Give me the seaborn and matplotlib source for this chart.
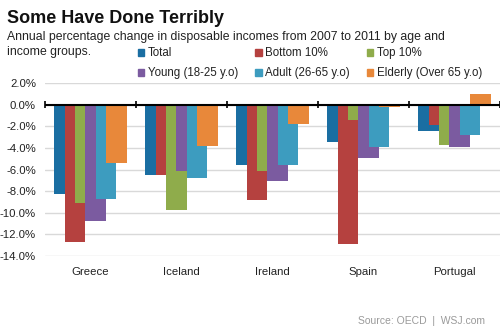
import numpy as np
import pandas as pd
import seaborn as sns
import matplotlib
matplotlib.use("Agg")
import matplotlib.pyplot as plt
from matplotlib.patches import Patch

countries = ["Greece", "Iceland", "Ireland", "Spain", "Portugal"]
groups = ["Total", "Bottom 10%", "Top 10%", "Young (18-25 y.o)", "Adult (26-65 y.o)", "Elderly (Over 65 y.o)"]
total = [-8.3, -6.5, -5.6, -3.5, -2.4]
bottom10 = [-12.7, -6.5, -8.8, -12.9, -1.9]
top10 = [-9.1, -9.7, -6.1, -1.4, -3.7]
young = [-10.8, -6.1, -7.1, -4.9, -3.9]
adult = [-8.7, -6.8, -5.6, -3.9, -2.8]
elderly = [-5.4, -3.8, -1.8, -0.25, 1.0]
yticks = [2, 0, -2, -4, -6, -8, -10, -12, -14]
colors = ["#1a6ea2", "#b5413f", "#8fac4b", "#7b5ba0", "#3d9cbf", "#e8883a"]

series = [total, bottom10, top10, young, adult, elderly]
df = pd.DataFrame({
    "country": countries * len(groups),
    "group": [g for g in groups for _ in countries],
    "value": [v for s in series for v in s],
})

sns.set_theme(style="white")
plt.rcParams["font.family"] = ["Liberation Sans", "DejaVu Sans"]

fig = plt.figure(figsize=(5, 3.34), dpi=100)
ax = fig.add_axes([0.09, 0.2335, 0.91, 0.518])

sns.barplot(data=df, x="country", y="value", hue="group", order=countries,
            hue_order=groups, palette=colors, width=0.68, dodge=True,
            legend=False, saturation=1, ax=ax, errorbar=None, linewidth=0)

# Overlapping bars (Excel-style overlap): double each bar width keeping center
for p in ax.patches:
    w = p.get_width()
    p.set_x(p.get_x() - w / 2)
    p.set_width(w * 2)

ax.set_ylim(-14, 2)
ax.set_xlim(-0.5, 4.5)
ax.set_yticks(yticks)
ax.set_yticklabels([f"{t:.1f}%" for t in yticks])
ax.yaxis.grid(True, color="#d9d9d9", lw=1)
ax.set_axisbelow(True)
for s in ax.spines.values():
    s.set_visible(False)
ax.axhline(0, color="black", lw=1.5, zorder=5)
ax.vlines(np.arange(-0.5, 5.0, 1.0), -0.3, 0.3, color="black", lw=1.2, zorder=5, clip_on=False)
ax.tick_params(axis="y", length=0, pad=6.5, labelsize=8.2, labelcolor="#222222")
ax.tick_params(axis="x", length=0, pad=8, labelsize=8.2, labelcolor="#222222")
ax.set_xlabel("")
ax.set_ylabel("")

fig.text(0.014, 0.945, "Some Have Done Terribly", fontsize=13, fontweight="bold",
         color="#111111", va="center")
fig.text(0.014, 0.888, "Annual percentage change in disposable incomes from 2007 to 2011 by age and",
         fontsize=8.8, color="#222222", va="center")
fig.text(0.014, 0.843, "income groups.", fontsize=8.8, color="#222222", va="center")

handles = [Patch(color=c) for c in colors]
order = [0, 3, 1, 4, 2, 5]
fig.legend([handles[i] for i in order], [groups[i] for i in order], ncol=3,
           loc="upper left", bbox_to_anchor=(0.276, 0.858), frameon=False,
           fontsize=8.3, handlelength=0.55, handleheight=0.55, handletextpad=0.3,
           columnspacing=1.5, labelspacing=0.7, borderpad=0, borderaxespad=0,
           labelcolor="#222222")

fig.text(0.97, 0.04, "Source: OECD  |  WSJ.com", fontsize=7.5, color="#9a9a9a",
         ha="right", va="center")

fig.savefig("out.png", dpi=100)
